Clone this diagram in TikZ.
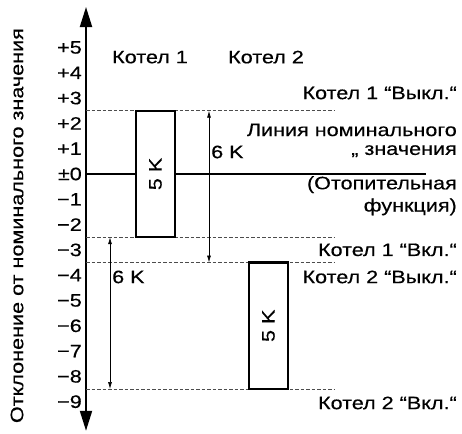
\documentclass[tikz,border=0pt]{standalone}
\usepackage{fontspec}
\setmainfont[FakeStretch=1.2, FakeBold=0.4]{Liberation Sans}
\usetikzlibrary{positioning, arrows.meta}

\begin{document}
\begin{tikzpicture}[
  x=1pt, y=25.3pt,
  font=\fontsize{18}{21}\selectfont,
  tick/.style={anchor=east, inner sep=0pt},
  rlab/.style={anchor=east, align=right, inner sep=0pt},
  kbox/.style={draw, line width=2.4pt, rotate=90, minimum width=126.5pt,
               minimum height=39pt, inner sep=0pt},
  level/.style={dashed, dash pattern=on 3.5pt off 2pt, line width=0.7pt, black!70},
  nom/.style={line width=1.6pt},
  axis/.style={line width=2pt, {Triangle[length=20pt, width=12pt]}-{Triangle[length=20pt, width=12pt]}},
  span/.style={line width=0.7pt, {Latex[length=7pt, width=4pt]}-{Latex[length=7pt, width=4pt]}}
]
\useasboundingbox (-86,6.877) rectangle (376,-10.277);
% axis and scale
\coordinate (atop) at (0,6.6);
\coordinate (abot) at (0,-10.15);
\draw[axis] (abot) -- (atop);
\foreach \k/\t in {5/+5, 4/+4, 3/+3, 2/+2, 1/+1, 0/±0, -1/−1, -2/−2, -3/−3,
                   -4/−4, -5/−5, -6/−6, -7/−7, -8/−8, -9/−9}
  \node[tick] (t\k) at (-4,\k) {\t};
\node[rotate=90] (ylab) at (-69,-2.04) {Отклонение от номинального значения};
% switching levels
\coordinate (l1a) at (0,2.5);   \coordinate (l1b) at (249,2.5);
\coordinate (l2a) at (0,-2.5);  \coordinate (l2b) at (249,-2.5);
\coordinate (l3a) at (0,-3.5);  \coordinate (l3b) at (249,-3.5);
\coordinate (l4a) at (0,-8.5);  \coordinate (l4b) at (249,-8.5);
\draw[level] (l1a) -- (l1b);
\draw[level] (l2a) -- (l2b);
\draw[level] (l3a) -- (l3b);
\draw[level] (l4a) -- (l4b);
% boiler bands
\node[kbox, fill=white] (k1) at (69.5,0) {5 K};
\node[kbox, fill=white] (k2) at (182.5,-6) {5 K};
\coordinate (nomend) at (340,0);
\draw[nom] (0,0) -- (k1.north);
\draw[nom] (k1.south) -- (nomend);
% hysteresis spans
\coordinate (s1a) at (123,2.5);  \coordinate (s1b) at (123,-3.5);
\coordinate (s2a) at (24,-2.5);  \coordinate (s2b) at (24,-8.5);
\draw[span] (s1a) -- (s1b);
\draw[span] (s2a) -- (s2b);
\node[anchor=west, inner sep=1pt] (d1) at (124,0.87) {6 K};
\node[anchor=west, inner sep=1pt] (d2) at (25,-4.07) {6 K};
% headings and notes
\node (h1) at (64,4.62) {Котел 1};
\node (h2) at (180,4.62) {Котел 2};
\node[rlab] (n1) at (371,3.2) {Котел 1 “Выкл.“};
\node[rlab] (n2) at (371,1.74) {Линия номинального};
\node[rlab] (n3) at (371,0.9) {„ значения};
\node[rlab] (n4) at (371,-0.42) {(Отопительная};
\node[rlab] (n5) at (371,-1.3) {функция)};
\node[rlab] (n6) at (371,-3.0) {Котел 1 “Вкл.“};
\node[rlab] (n7) at (371,-4.07) {Котел 2 “Выкл.“};
\node[rlab] (n8) at (371,-9.05) {Котел 2 “Вкл.“};
\end{tikzpicture}
\end{document}
